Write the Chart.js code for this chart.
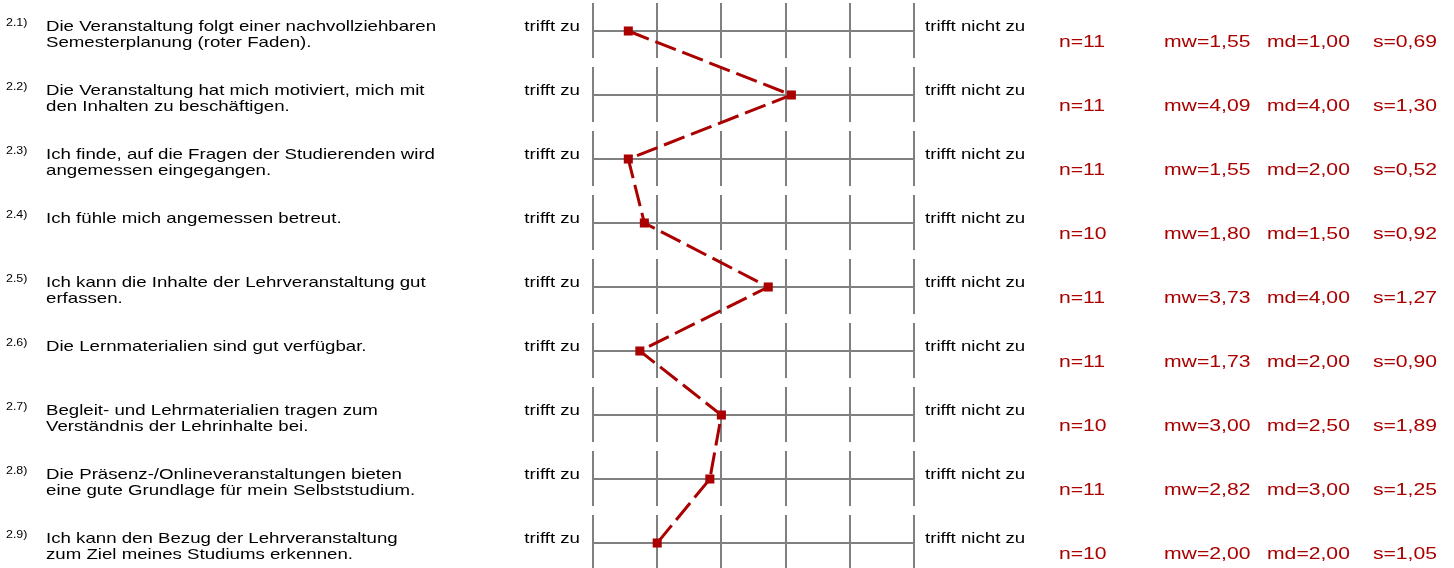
<!DOCTYPE html>
<html><head><meta charset="utf-8">
<script src="https://cdn.jsdelivr.net/npm/chart.js@4"></script>
<style>html,body{margin:0;padding:0;background:#fff}#wrap{width:1454px;height:568px;position:relative}</style>
</head><body><div id="wrap"><canvas id="c"></canvas></div>
<script>
const itemNumbers = ["2.1)","2.2)","2.3)","2.4)","2.5)","2.6)","2.7)","2.8)","2.9)"];
const questions = [
  ["Die Veranstaltung folgt einer nachvollziehbaren","Semesterplanung (roter Faden)."],
  ["Die Veranstaltung hat mich motiviert, mich mit","den Inhalten zu beschäftigen."],
  ["Ich finde, auf die Fragen der Studierenden wird","angemessen eingegangen."],
  ["Ich fühle mich angemessen betreut."],
  ["Ich kann die Inhalte der Lehrveranstaltung gut","erfassen."],
  ["Die Lernmaterialien sind gut verfügbar."],
  ["Begleit- und Lehrmaterialien tragen zum","Verständnis der Lehrinhalte bei."],
  ["Die Präsenz-/Onlineveranstaltungen bieten","eine gute Grundlage für mein Selbststudium."],
  ["Ich kann den Bezug der Lehrveranstaltung","zum Ziel meines Studiums erkennen."]
];
const leftPole = "trifft zu";
const rightPole = "trifft nicht zu";
const nValues = [11,11,11,10,11,11,10,11,10];
const meanValues = [1.55,4.09,1.55,1.80,3.73,1.73,3.00,2.82,2.00];
const medianValues = [1.00,4.00,2.00,1.50,4.00,2.00,2.50,3.00,2.00];
const sdValues = [0.69,1.30,0.52,0.92,1.27,0.90,1.89,1.25,1.05];
const scaleTicks = [1,2,3,4,5,6];

const RED = '#aa0000';
const FONT = '"Liberation Sans", Arial, sans-serif';
const SX = 1.244;
const fmt = v => v.toFixed(2).replace('.', ',');

function txt(ctx, s, x, y, align, size, color) {
  ctx.save();
  ctx.translate(x, y);
  ctx.scale(SX, 1);
  ctx.font = size + 'px ' + FONT;
  ctx.fillStyle = color;
  ctx.textAlign = align;
  ctx.textBaseline = 'alphabetic';
  ctx.fillText(s, 0, 0);
  ctx.restore();
}

const profilePlugin = {
  id: 'profile',
  beforeDatasetsDraw(chart) {
    const {ctx, scales:{x, y}} = chart;
    ctx.save();
    ctx.strokeStyle = '#808080';
    ctx.lineWidth = 2;
    const x0 = x.getPixelForValue(scaleTicks[0]);
    const x1 = x.getPixelForValue(scaleTicks[scaleTicks.length-1]);
    questions.forEach((q, i) => {
      const yc = Math.round(y.getPixelForValue(i + 1));
      ctx.beginPath();
      ctx.moveTo(x0, yc); ctx.lineTo(x1, yc);
      scaleTicks.forEach(t => {
        const xp = Math.round(x.getPixelForValue(t));
        ctx.moveTo(xp, yc - 28); ctx.lineTo(xp, yc + 27);
      });
      ctx.stroke();
    });
    ctx.restore();
  },
  afterDraw(chart) {
    const {ctx, scales:{y}} = chart;
    questions.forEach((q, i) => {
      const yc = y.getPixelForValue(i + 1);
      txt(ctx, itemNumbers[i], 6, yc - 5, 'left', 10, '#000');
      txt(ctx, q[0], 46, yc, 'left', 15, '#000');
      if (q.length === 2) txt(ctx, q[1], 46, yc + 16, 'left', 15, '#000');
      txt(ctx, leftPole, 580, yc, 'right', 15, '#000');
      txt(ctx, rightPole, 925, yc, 'left', 15, '#000');
      txt(ctx, 'n=' + nValues[i], 1059, yc + 16, 'left', 17, RED);
      txt(ctx, 'mw=' + fmt(meanValues[i]), 1164, yc + 16, 'left', 17, RED);
      txt(ctx, 'md=' + fmt(medianValues[i]), 1267, yc + 16, 'left', 17, RED);
      txt(ctx, 's=' + fmt(sdValues[i]), 1437, yc + 16, 'right', 17, RED);
    });
  }
};

new Chart(document.getElementById('c'), {
  type: 'line',
  data: {
    datasets: [{
      data: meanValues.map((v, i) => ({x: v, y: i + 1})),
      borderColor: RED,
      backgroundColor: RED,
      borderWidth: 3,
      borderDash: [22, 7],
      pointStyle: 'rect',
      pointRadius: 6.4,
      pointBorderWidth: 0,
      pointBackgroundColor: RED,
      tension: 0,
      clip: false
    }]
  },
  options: {
    responsive: true,
    maintainAspectRatio: false,
    animation: false,
    events: [],
    layout: {padding: {left: 593, right: 540, top: 31, bottom: 25}},
    plugins: {legend: {display: false}, tooltip: {enabled: false}},
    scales: {
      x: {type: 'linear', min: 1, max: 6, display: false},
      y: {type: 'linear', min: 1, max: 9, reverse: true, display: false}
    }
  },
  plugins: [profilePlugin]
});
</script></body></html>
